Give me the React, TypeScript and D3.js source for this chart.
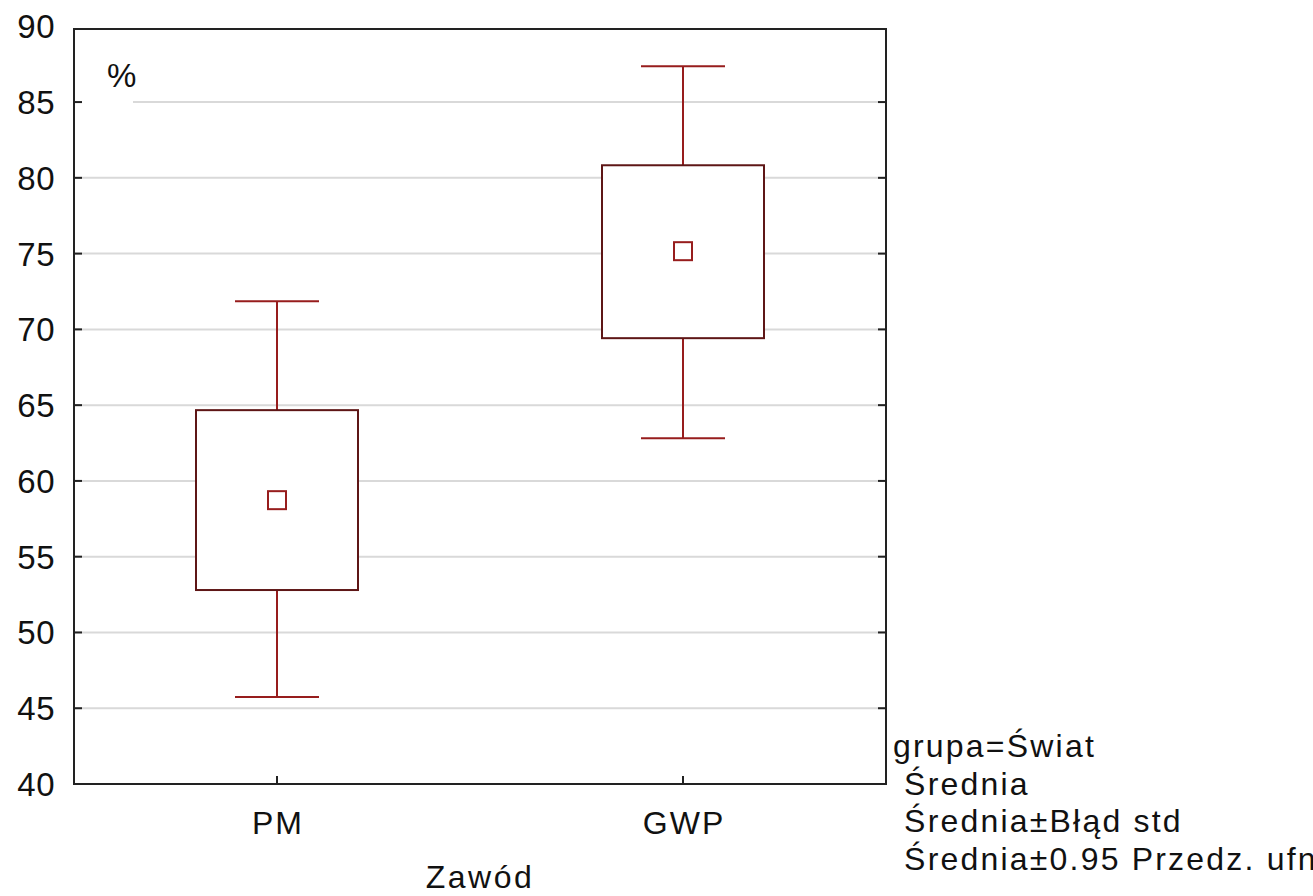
import React from "react";
import * as d3 from "d3";

const categories = ["PM", "GWP"];
const means = [58.73, 75.16];
const seLow = [52.8, 69.42];
const seHigh = [64.67, 80.83];
const ciLow = [45.74, 62.82];
const ciHigh = [71.86, 87.36];
const yTicks = [40, 45, 50, 55, 60, 65, 70, 75, 80, 85, 90];
const legendLines = ["grupa=Świat", " Średnia", " Średnia±Błąd std", " Średnia±0.95 Przedz. ufn"];

const W = 1313;
const H = 896;
const left = 74;
const right = 886;
const top = 29;
const bottom = 784;

export default function App() {
  const y = d3.scaleLinear().domain([40, 90]).range([784, 26.3]);
  const x = d3.scalePoint<string>().domain(categories).range([left, right]).padding(0.5);
  const boxHalf = 81;
  const capHalf = 42;
  const mk = 9;
  const font = "'Liberation Sans', Arial, sans-serif";
  const whisk = "#971d1d";
  const boxCol = "#5e1616";
  return (
    <svg width={W} height={H} style={{ position: "absolute", left: 0, top: 0, background: "#fff" }} fontFamily={font}>
      <rect x={0} y={0} width={W} height={H} fill="#fff" />
      {/* gridlines */}
      {yTicks.filter(t => t > 40 && t < 90).map(t => (
        <line key={"g" + t} x1={left} x2={right} y1={y(t)} y2={y(t)} stroke="#d9d9d9" strokeWidth={2} />
      ))}
      {/* % label with white background */}
      <rect x={left + 2} y={y(85) - 4} width={57} height={8} fill="#fff" />
      <text x={107} y={87} fontSize={33} fill="#111">%</text>
      {/* boxes and whiskers */}
      {categories.map((c, i) => {
        const cx = x(c)!;
        return (
          <g key={c}>
            <line x1={cx} x2={cx} y1={y(ciHigh[i])} y2={y(seHigh[i])} stroke={whisk} strokeWidth={2} />
            <line x1={cx} x2={cx} y1={y(seLow[i])} y2={y(ciLow[i])} stroke={whisk} strokeWidth={2} />
            <line x1={cx - capHalf} x2={cx + capHalf} y1={y(ciHigh[i])} y2={y(ciHigh[i])} stroke={whisk} strokeWidth={2} />
            <line x1={cx - capHalf} x2={cx + capHalf} y1={y(ciLow[i])} y2={y(ciLow[i])} stroke={whisk} strokeWidth={2} />
            <rect x={cx - boxHalf} y={y(seHigh[i])} width={boxHalf * 2} height={y(seLow[i]) - y(seHigh[i])} fill="#fff" stroke={boxCol} strokeWidth={2} />
            <rect x={cx - mk} y={y(means[i]) - mk} width={mk * 2} height={mk * 2} fill="none" stroke={whisk} strokeWidth={2} />
          </g>
        );
      })}
      {/* frame */}
      <rect x={left} y={top} width={right - left} height={bottom - top} fill="none" stroke="#222" strokeWidth={2} />
      {/* y ticks */}
      {yTicks.map(t => (
        <g key={"t" + t}>
          {t < 90 && <line x1={left} x2={left + 8} y1={y(t)} y2={y(t)} stroke="#222" strokeWidth={2} />}
          {t < 90 && <line x1={right - 8} x2={right} y1={y(t)} y2={y(t)} stroke="#222" strokeWidth={2} />}
          <text x={55} y={y(t) + 12} fontSize={33} letterSpacing={0.5} textAnchor="end" fill="#111">{t}</text>
        </g>
      ))}
      {/* x ticks */}
      {categories.map(c => (
        <g key={"x" + c}>
          <line x1={x(c)!} x2={x(c)!} y1={bottom} y2={bottom - 8} stroke="#222" strokeWidth={2} />
          <text x={x(c)! + 1} y={834} fontSize={32} letterSpacing={2} textAnchor="middle" fill="#111">{c}</text>
        </g>
      ))}
      <text x={480} y={888} fontSize={32} letterSpacing={2.5} textAnchor="middle" fill="#111">Zawód</text>
      {/* legend */}
      {legendLines.map((l, i) => (
        <text key={"l" + i} x={893} y={757 + i * 37.7} fontSize={32} letterSpacing={2.2} fill="#111" style={{ whiteSpace: "pre" }}>{l}</text>
      ))}
    </svg>
  );
}
